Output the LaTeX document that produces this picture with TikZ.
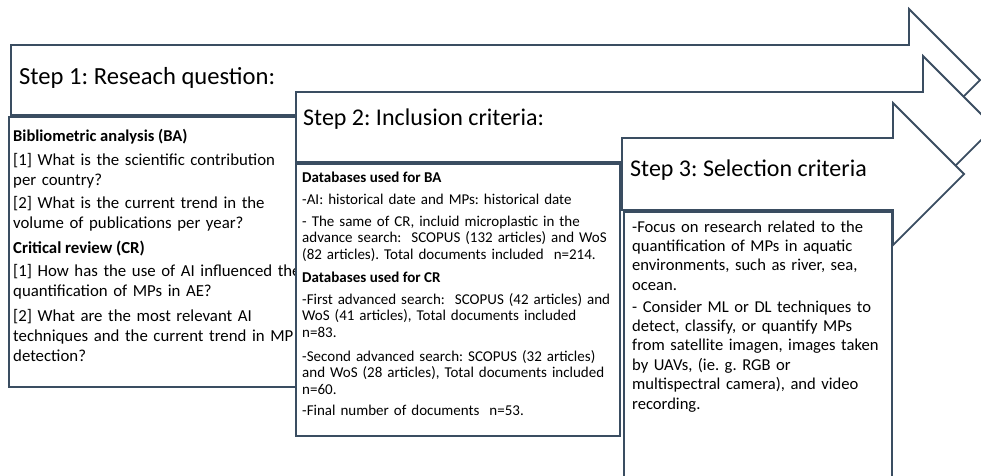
\documentclass[tikz,border=0pt]{standalone}
\usepackage{fontspec}
\setmainfont{Carlito}
\definecolor{edge}{HTML}{3A4D61}
\begin{document}
\frenchspacing
\begin{tikzpicture}[x=1pt,y=-1pt,
  shp/.style={draw=edge,line width=1.8pt,fill=white,line join=miter},
  ttl/.style={anchor=base west,inner sep=0pt,font=\fontsize{#1}{28}\selectfont},
  hd/.style={anchor=base west,inner sep=0pt,font=\fontsize{#1}{18}\selectfont\bfseries},
  pA/.style={anchor=base west,inner sep=0pt,text width=#1,align=left,font=\fontsize{16.8}{20}\selectfont},
  pB/.style={anchor=base west,inner sep=0pt,text width=#1,align=left,font=\fontsize{15}{16.6}\selectfont},
  pC/.style={anchor=base west,inner sep=0pt,text width=#1,align=left,font=\fontsize{16.6}{19.4}\selectfont}]
\clip (0,0) rectangle (981,475);
% arrow 1
\draw[shp] (11,45) -- (909,45) -- (909,9) -- (980,80) -- (909,151) -- (909,115) -- (11,115) -- cycle;
\node[ttl=24.6] (t1) at (19,84) {Step 1: Reseach question:};
% box 1
\draw[shp] (9,117) rectangle (296,387);
\node[hd=16.5] (h1) at (13,141) {Bibliometric analysis (BA)};
\node[pA=320pt] (q1) at (13,165) {[1] What is the scientific contribution\\per country?};
\node[pA=320pt] (q2) at (13,208) {[2] What is the current trend in the\\volume of publications per year?};
\node[hd=16.8] (h2) at (13,253) {Critical review (CR)};
\node[pA=320pt] (q3) at (13,276) {[1] How has the use of AI influenced the\\quantification of MPs in AE?};
\node[pA=320pt] (q4) at (13,321) {[2] What are the most relevant AI\\techniques and the current trend in MP\\detection?};
% arrow 2
\draw[shp] (296,92) -- (923,92) -- (923,56) -- (994,127) -- (923,198) -- (923,162) -- (296,162) -- cycle;
\node[ttl=24] (t2) at (303,125) {Step 2: Inclusion criteria:};
% box 2
\draw[shp] (296,164) rectangle (620,436);
\node[hd=15] (d1) at (302,182) {Databases used for BA};
\node[pB=330pt] (e1) at (302,204) {-AI: historical date and MPs: historical date};
\node[pB=330pt] (e2) at (302,226) {- The same of CR, incluid microplastic in the\\advance search:\ \ SCOPUS (132 articles) and WoS\\(82 articles). Total documents included\ \ n=214.};
\node[hd=15] (d2) at (302,282) {Databases used for CR};
\node[pB=330pt] (e3) at (302,304) {-First advanced search:\ \ SCOPUS (42 articles) and\\WoS (41 articles), Total documents included\\n=83.};
\node[pB=330pt] (e4) at (302,361) {-Second advanced search: SCOPUS (32 articles)\\and WoS (28 articles), Total documents included\\n=60.};
\node[pB=330pt] (e5) at (302,415) {-Final number of documents\ \ n=53.};
% arrow 3
\draw[shp] (622,138) -- (893,138) -- (893,103) -- (964,174) -- (893,245) -- (893,210) -- (622,210) -- cycle;
\node[ttl=24] (t3) at (630,176) {Step 3: Selection criteria};
% box 3
\draw[shp] (624,212) rectangle (892,480);
\node[pC=265pt] (s1) at (632,232) {-Focus on research related to the\\quantification of MPs in aquatic\\environments, such as river, sea,\\ocean.};
\node[pC=265pt] (s2) at (632,312) {- Consider ML or DL techniques to\\detect, classify, or quantify MPs\\from satellite imagen, images taken\\by UAVs, (ie. g. RGB or\\multispectral camera), and video\\recording.};
\end{tikzpicture}
\end{document}
